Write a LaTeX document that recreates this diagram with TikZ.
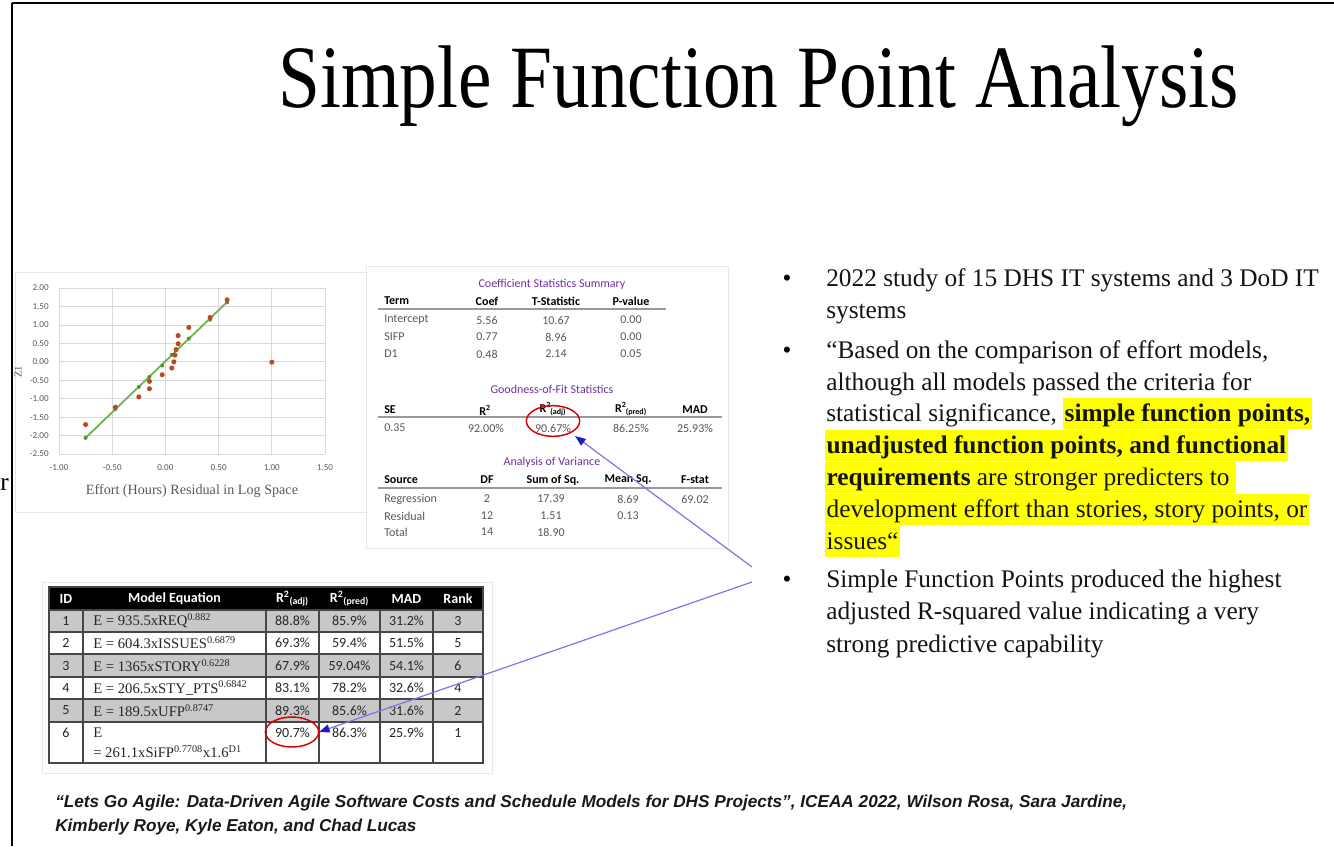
\documentclass[tikz,border=0pt]{standalone}
\usepackage{fontspec}
\setmainfont{Liberation Serif}
\newfontfamily\calfont{Carlito}
\newfontfamily\arfont{Liberation Sans}
\usetikzlibrary{shapes.geometric,arrows.meta}

\definecolor{purp}{RGB}{112,48,160}
\definecolor{dotred}{RGB}{190,72,30}
\definecolor{fitgreen}{RGB}{106,180,70}
\definecolor{gridc}{RGB}{217,217,217}
\definecolor{valgray}{RGB}{89,89,89}
\definecolor{rowgray}{RGB}{200,200,200}
\definecolor{tabline}{RGB}{70,70,70}
\definecolor{arrline}{RGB}{120,120,230}
\definecolor{arrhead}{RGB}{30,30,200}
\definecolor{hly}{RGB}{255,255,0}
\definecolor{panelc}{RGB}{232,232,232}

% yellow text highlight
\newcommand\hlstrut{\rule[-5.5pt]{0pt}{23pt}}
\newcommand\hlt[1]{{\setlength{\fboxsep}{0pt}\colorbox{hly}{\kern1pt\hlstrut#1\kern1pt}}}

\tikzset{
  panel/.style={draw=panelc, line width=0.6pt, fill=white},
  bultxt/.style={anchor=base west, inner sep=0pt, text=black!92,
    font=\fontsize{19}{24}\selectfont},
  bulmark/.style={anchor=base, inner sep=0pt, font=\fontsize{19}{24}\selectfont},
  ticklab/.style={inner sep=0pt, text=valgray, font=\calfont\fontsize{6.8}{8}\selectfont},
  sttitle/.style={inner sep=0pt, text=purp, font=\calfont\fontsize{9}{10}\selectfont},
  sthead/.style={inner sep=0pt, text=black, font=\calfont\fontsize{9}{10}\selectfont\bfseries},
  stval/.style={inner sep=0pt, text=valgray, font=\calfont\fontsize{9}{10}\selectfont},
  strule/.style={draw=gray!80, line width=1.4pt},
  mhead/.style={inner sep=0pt, text=white, font=\calfont\fontsize{10.5}{12}\selectfont\bfseries},
  mcell/.style={inner sep=0pt, text=black!85, font=\calfont\fontsize{10.5}{12}\selectfont},
  meq/.style={anchor=west, inner sep=0pt, text=black!85, font=\fontsize{11}{13}\selectfont},
  tabrule/.style={draw=tabline, line width=1.1pt},
  redell/.style={ellipse, draw=red!85!black, line width=1.1pt, inner sep=0pt},
  bluearr/.style={draw=arrline, line width=0.9pt,
    -{Triangle[length=8pt,width=6pt,color=arrhead]}},
  foottxt/.style={anchor=base west, inner sep=0pt, text=black!90,
    font=\arfont\bfseries\itshape\fontsize{12.9}{15}\selectfont},
}

\begin{document}
\begin{tikzpicture}[x=0.75pt,y=-0.75pt]
\useasboundingbox (0,0) rectangle (1334,846);
\fill[white] (0,0) rectangle (1334,846);

% slide frame
\draw[black, line width=1.6pt] (12,3) -- (1334,3);
\draw[black, line width=2.2pt] (12,3) -- (12,846);

% clipped letter at the left edge
\node[anchor=base east, inner sep=0pt, font=\fontsize{19}{24}\selectfont] (edge) at (9,490) {r};

% title
\node[anchor=base, inner sep=0pt, font=\fontsize{66.75}{70}\selectfont] (title) at (758.5,107)
  {\scalebox{0.846}[1]{Simple Function Point Analysis}};

% ---------------- residual plot ----------------
\draw[panel] (15,272) rectangle (366,512);
\begin{scope}[xshift=124.05pt, yshift=-271.35pt, x=79.8pt, y=27.675pt]
  \foreach \gx in {-1,-0.5,0,0.5,1,1.5}
    \draw[gridc, line width=0.6pt] (\gx,-2.5) -- (\gx,2);
  \foreach \gy in {-2.5,-2,-1.5,-1,-0.5,0,0.5,1,1.5,2}
    \draw[gridc, line width=0.6pt] (-1,\gy) -- (1.5,\gy);
  \foreach \gx/\lab [count=\i] in {-1/-1.00,-0.5/-0.50,0/0.00,0.5/0.50,1/1.00,1.5/1.50}
    \node[ticklab] (xt\i) at (\gx,-2.88) {\lab};
  \foreach \gy/\lab [count=\i] in {2/2.00,1.5/1.50,1/1.00,0.5/0.50,0/0.00,-0.5/-0.50,-1/-1.00,-1.5/-1.50,-2/-2.00,-2.5/-2.50}
    \node[ticklab, anchor=east] (yt\i) at (-1.095,\gy) {\lab};
  % fitted line with its markers
  \draw[fitgreen, line width=1.3pt] (-0.75,-2.06) -- (0.58,1.62);
  \foreach \px/\py in {-0.75/-2.06,-0.47/-1.28,-0.25/-0.68,-0.15/-0.41,-0.03/-0.10,
                       0.06/0.19,0.22/0.63,0.42/1.14,0.58/1.61}
    \fill[fitgreen!80!black] (\px,\py) circle (1.5pt);
  % residuals
  \foreach \px/\py in {-0.75/-1.70,-0.47/-1.23,-0.25/-0.95,-0.15/-0.53,-0.15/-0.73,
                       -0.03/-0.35,0.06/-0.17,0.08/0.00,0.09/0.18,0.10/0.33,0.12/0.49,
                       0.12/0.71,0.22/0.93,0.42/1.20,0.58/1.68,1.00/-0.01}
    \fill[dotred] (\px,\py) circle (1.9pt);
\end{scope}
\node[inner sep=0pt, text=valgray, font=\fontsize{10.6}{12}\selectfont] (xtitle) at (192,491)
  {Effort (Hours) Residual in Log Space};
\node[inner sep=0pt, text=valgray, rotate=90, font=\fontsize{8}{9}\selectfont] (ytitle) at (18,372) {Z1};

% ---------------- regression statistics ----------------
\draw[panel] (366,266) rectangle (728,548);
\node[sttitle] (ct) at (552,284) {Coefficient Statistics Summary};
\node[sthead, anchor=west] (cterm) at (384,301) {Term};
\node[sthead] (ccoef) at (487,301) {Coef};
\node[sthead] (ctst) at (556,301) {T-Statistic};
\node[sthead] (cpv) at (631,301) {P-value};
\draw[strule] (378,309) -- (666,309);
\foreach \nm/\yy/\a/\b/\c [count=\i] in {Intercept/320/5.56/10.67/0.00, SIFP/337/0.77/8.96/0.00, D1/354/0.48/2.14/0.05}{
  \node[stval, anchor=west] (cr\i) at (384,\yy) {\nm};
  \node[stval] (ca\i) at (487,\yy) {\a};
  \node[stval] (cb\i) at (556,\yy) {\b};
  \node[stval] (cc\i) at (631,\yy) {\c};
}

\node[sttitle] (gt) at (552,389) {Goodness-of-Fit Statistics};
\node[sthead, anchor=west] (gse) at (384,410) {SE};
\node[sthead] (gr) at (485,410) {R\textsuperscript{2}};
\node[sthead] (gra) at (553,409) {R\textsuperscript{2}\kern-0.5pt\textsubscript{(adj)}};
\node[sthead] (grp) at (631,409) {R\textsuperscript{2}\kern-0.5pt\textsubscript{(pred)}};
\node[sthead] (gmad) at (695,410) {MAD};
\draw[strule] (378,417) -- (722,417);
\node[stval, anchor=west] (gv1) at (384,428) {0.35};
\node[stval] (gv2) at (486,428) {92.00\%};
\node[stval] (gv3) at (553,428) {90.67\%};
\node[stval] (gv4) at (631,428) {86.25\%};
\node[stval] (gv5) at (695,428) {25.93\%};
\node[redell, minimum width=40pt, minimum height=23pt] (ell1) at (553,421) {};

\node[sttitle] (at) at (552,462) {Analysis of Variance};
\node[sthead, anchor=west] (asrc) at (384,480) {Source};
\node[sthead] (adf) at (487,480) {DF};
\node[sthead] (ass) at (553,480) {Sum of Sq.};
\node[sthead] (ams) at (628,480) {Mean Sq.};
\node[sthead] (afs) at (695,480) {F-stat};
\draw[strule] (378,488) -- (722,488);
\node[stval, anchor=west] (ar1) at (384,499) {Regression};
\node[stval] (ad1) at (487,499) {2};
\node[stval] (as1) at (551,499) {17.39};
\node[stval] (am1) at (628,499) {8.69};
\node[stval] (af1) at (695,499) {69.02};
\node[stval, anchor=west] (ar2) at (384,516) {Residual};
\node[stval] (ad2) at (487,516) {12};
\node[stval] (as2) at (551,516) {1.51};
\node[stval] (am2) at (628,516) {0.13};
\node[stval, anchor=west] (ar3) at (384,532) {Total};
\node[stval] (ad3) at (487,532) {14};
\node[stval] (as3) at (551,532) {18.90};

% ---------------- model comparison table ----------------
\draw[panel] (42,582) rectangle (492,773);
\fill[black] (49,587) rectangle (483,610);
\foreach \ya/\yb in {610/632,654/677,699/722}
  \fill[rowgray] (49,\ya) rectangle (483,\yb);
\foreach \yy in {610,632,654,677,699,722}
  \draw[tabrule] (49,\yy) -- (483,\yy);
\foreach \xx in {83,266,319,380,433}
  \draw[tabrule] (\xx,610) -- (\xx,763);
\draw[tabrule] (49,587) rectangle (483,763);

\node[mhead] (hid) at (66,598.5) {ID};
\node[mhead] (hme) at (174.5,598.5) {Model Equation};
\node[mhead] (hra) at (292.5,598.5) {R\textsuperscript{2}\textsubscript{(adj)}};
\node[mhead] (hrp) at (349.5,598.5) {R\textsuperscript{2}\textsubscript{(pred)}};
\node[mhead] (hmad) at (406.5,598.5) {MAD};
\node[mhead] (hrk) at (458,598.5) {Rank};

\foreach \i/\yy/\eq/\ra/\rp/\md/\rk in {
  1/621/{E = 935.5xREQ\textsuperscript{0.882}}/88.8/85.9/31.2/3,
  2/643/{E = 604.3xISSUES\textsuperscript{0.6879}}/69.3/59.4/51.5/5,
  3/665.5/{E = 1365xSTORY\textsuperscript{0.6228}}/67.9/59.04/54.1/6,
  4/688/{E = 206.5xSTY\_PTS\textsuperscript{0.6842}}/83.1/78.2/32.6/4,
  5/710.5/{E = 189.5xUFP\textsuperscript{0.8747}}/89.3/85.6/31.6/2}{
  \node[mcell] (id\i) at (66,\yy) {\i};
  \node[meq] (eq\i) at (93,\yy) {\eq};
  \node[mcell] (ra\i) at (292.5,\yy) {\ra\%};
  \node[mcell] (rp\i) at (349.5,\yy) {\rp\%};
  \node[mcell] (md\i) at (406.5,\yy) {\md\%};
  \node[mcell] (rk\i) at (458,\yy) {\rk};
}
\node[mcell] (id6) at (66,733) {6};
\node[meq] (eq6a) at (93,733) {E};
\node[meq] (eq6b) at (93,752) {= 261.1xSiFP\textsuperscript{0.7708}x1.6\textsuperscript{D1}};
\node[mcell] (ra6) at (292.5,733) {90.7\%};
\node[mcell] (rp6) at (349.5,733) {86.3\%};
\node[mcell] (md6) at (406.5,733) {25.9\%};
\node[mcell] (rk6) at (458,733) {1};
\node[redell, minimum width=40pt, minimum height=22.5pt] (ell2) at (292,732) {};

% ---------------- bullets ----------------
\node[bulmark] (b1) at (787,286) {•};
\node[bultxt] (l1) at (826,286) {2022 study of 15 DHS IT systems and 3 DoD IT};
\node[bultxt] (l2) at (826,318.5) {systems};
\node[bulmark] (b2) at (787,358) {•};
\node[bultxt] (l3) at (826,358) {“Based on the comparison of effort models,};
\node[bultxt] (l4) at (826,390) {although all models passed the criteria for};
\node[bultxt] (l5) at (826,421.5) {statistical significance, \hlt{\textbf{simple function points,}}};
\node[bultxt] (l6) at (825,453.5) {\hlt{\textbf{unadjusted function points, and functional}}};
\node[bultxt] (l7) at (825,485.5) {\hlt{\textbf{requirements} are stronger predicters to\kern4pt}};
\node[bultxt] (l8) at (825,517.5) {\hlt{development effort than stories, story points, or}};
\node[bultxt] (l9) at (825,549.5) {\hlt{issues“}};
\node[bulmark] (b3) at (787,587) {•};
\node[bultxt] (l10) at (826,587) {Simple Function Points produced the highest};
\node[bultxt] (l11) at (826,619.5) {adjusted R-squared value indicating a very};
\node[bultxt] (l12) at (826,652) {strong predictive capability};

% pointers from the third bullet to the adjusted R-squared values
\coordinate (src1) at (752,567);
\coordinate (src2) at (752,582);
\coordinate (tip1) at (575,436);
\coordinate (tip2) at (319,732);
\draw[bluearr] (src1) -- (tip1);
\draw[bluearr] (src2) -- (tip2);

% ---------------- reference ----------------
\node[foottxt] (foot1) at (55,807)
  {“Lets Go Agile: Data-Driven Agile Software Costs and Schedule Models for DHS Projects”, ICEAA 2022, Wilson Rosa, Sara Jardine,};
\node[foottxt] (foot2) at (55,831)
  {Kimberly Roye, Kyle Eaton, and Chad Lucas};
\end{tikzpicture}
\end{document}
